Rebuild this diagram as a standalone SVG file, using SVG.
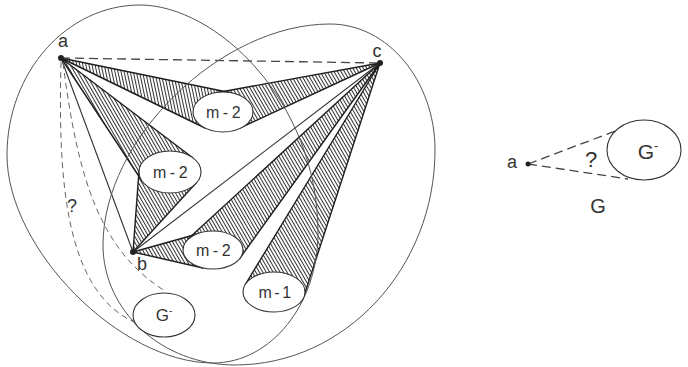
<svg xmlns="http://www.w3.org/2000/svg" width="688" height="367" viewBox="0 0 688 367">
<defs>
<pattern id="h60" width="3" height="3" patternUnits="userSpaceOnUse" patternTransform="rotate(60)"><line x1="0" y1="1.5" x2="3" y2="1.5" stroke="#333" stroke-width="1"/></pattern>
<pattern id="h78" width="3" height="3" patternUnits="userSpaceOnUse" patternTransform="rotate(78)"><line x1="0" y1="1.5" x2="3" y2="1.5" stroke="#333" stroke-width="1"/></pattern>
</defs>
<style>
.band{stroke:#1e1e1e;stroke-width:1.4;stroke-linejoin:round}
.region{fill:none;stroke:#555;stroke-width:1}
.comp{fill:#fff;stroke:#333;stroke-width:1.1}
.edge{stroke:#333;stroke-width:1.1;fill:none}
.dash{stroke:#444;stroke-width:1.3;stroke-dasharray:9 5;fill:none}
.dash2{stroke:#666;stroke-width:1;stroke-dasharray:6 4;fill:none}
.lbl{font-family:"Liberation Sans",Arial,sans-serif;fill:#333}
.dot{fill:#222}
</style>
<rect width="688" height="367" fill="#fff"/>
<g id="connectors">
<polygon class="band" fill="url(#h78)" points="61,58 232,93 205,128"/>
<polygon class="band" fill="url(#h60)" points="380,63 215,93 240,128"/>
<polygon class="band" fill="url(#h60)" points="61,58 193,158 142,181"/>
<polygon class="band" fill="url(#h60)" points="133,252 139,171 196,183"/>
<polygon class="band" fill="url(#h60)" points="133,252 201,233 203,268"/>
<polygon class="band" fill="url(#h60)" points="380,63 188,239 240,258"/>
<polygon class="band" fill="url(#h60)" points="380,63 245,285 304,296"/>
<line class="edge" x1="61" y1="58" x2="133" y2="252"/>
<line class="edge" x1="133" y1="252" x2="380" y2="63"/>
<line class="dash" x1="61" y1="58" x2="380" y2="63"/>
<path class="dash2" d="M61,62 C58,180 65,290 134,322"/>
<path class="dash2" d="M63,63 C78,180 100,250 165,291"/>
<line class="dash" x1="528" y1="164" x2="618" y2="130"/>
<line class="dash" x1="528" y1="164" x2="628" y2="179"/>
</g>
<g id="G1">
<path class="region" d="M140,5 C215,5 318,100 318,233 C318,304 271,363 213,363 C120,363 7,249 7,155 C7,72 67,5 140,5 Z"/>
</g>
<g id="G2">
<path class="region" d="M330,24 C388,24 435,81 435,150 C435,268 345,365 235,365 C162,365 103,311 103,245 C103,139 221,24 330,24 Z"/>
</g>
<g id="comp1"><ellipse class="comp" cx="223" cy="112" rx="30" ry="20"/><text class="lbl" x="225" y="118" font-size="16" text-anchor="middle" letter-spacing="3.5">m-2</text></g>
<g id="comp2"><ellipse class="comp" cx="170" cy="172" rx="31" ry="21"/><text class="lbl" x="172" y="178" font-size="16" text-anchor="middle" letter-spacing="3.5">m-2</text></g>
<g id="comp3"><ellipse class="comp" cx="213" cy="250" rx="30" ry="19"/><text class="lbl" x="215" y="256" font-size="16" text-anchor="middle" letter-spacing="3.5">m-2</text></g>
<g id="comp4"><ellipse class="comp" cx="274" cy="292" rx="31" ry="20"/><text class="lbl" x="276" y="298" font-size="16" text-anchor="middle" letter-spacing="2.5">m-1</text></g>
<g id="compG"><ellipse class="comp" cx="164" cy="315" rx="31" ry="22"/><text class="lbl" x="164" y="321" font-size="17" text-anchor="middle">G<tspan dy="-7" font-size="10">-</tspan></text></g>
<g id="va"><circle class="dot" cx="61" cy="58" r="3"/><text class="lbl" x="63" y="47" font-size="18" text-anchor="middle">a</text></g>
<g id="vb"><circle class="dot" cx="133" cy="252" r="3"/><text class="lbl" x="142" y="270" font-size="18" text-anchor="middle">b</text></g>
<g id="vc"><circle class="dot" cx="380" cy="63" r="3"/><text class="lbl" x="377" y="57" font-size="18" text-anchor="middle">c</text></g>
<text class="lbl" x="72" y="212" font-size="18" text-anchor="middle">?</text>
<g id="small-a"><circle class="dot" cx="528" cy="164" r="2.5"/><text class="lbl" x="512" y="168" font-size="18" text-anchor="middle">a</text></g>
<g id="small-G"><ellipse class="comp" cx="644" cy="150" rx="37" ry="30"/><text class="lbl" x="648" y="159" font-size="21" text-anchor="middle">G<tspan dy="-9" font-size="13">-</tspan></text></g>
<text class="lbl" x="591" y="167" font-size="22" text-anchor="middle">?</text>
<text class="lbl" x="598" y="213" font-size="20" text-anchor="middle">G</text>
</svg>
